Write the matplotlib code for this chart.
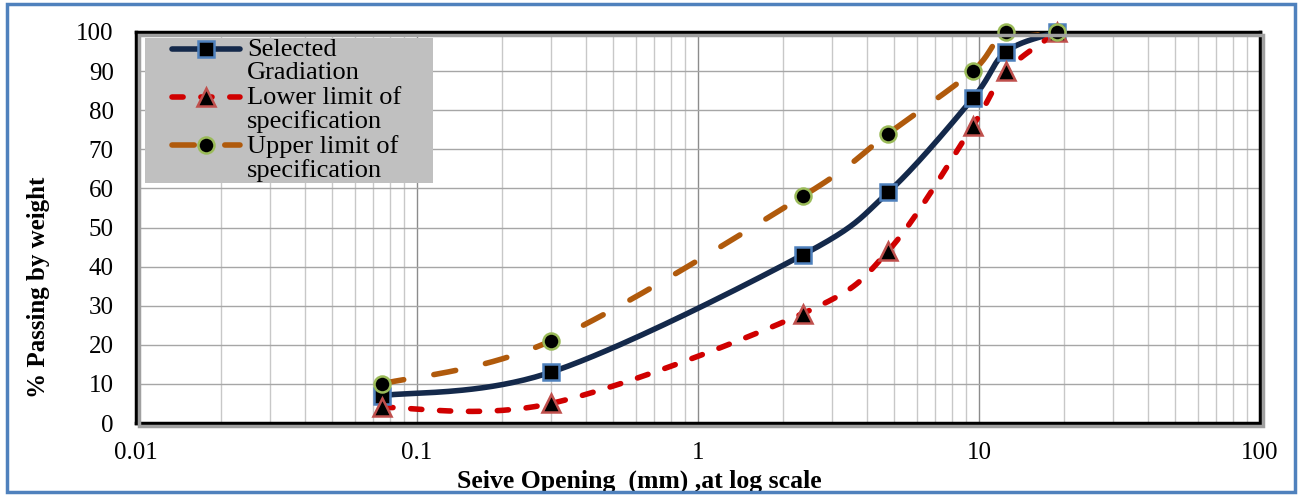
import numpy as np
import matplotlib.pyplot as plt
from matplotlib.patches import Rectangle
from matplotlib.lines import Line2D

plt.rcParams['font.family'] = ['Liberation Serif', 'DejaVu Serif']

# Sieve sizes (mm) and percent passing
sieve = [0.075, 0.3, 2.36, 4.75, 9.5, 12.5, 19]
selected = [7, 13, 43, 59, 83, 95, 100]
lower = [4, 5, 28, 44, 76, 90, 100]
upper = [10, 21, 58, 74, 90, 100, 100]

labels = ["Selected\nGradiation", "Lower limit of\nspecification", "Upper limit of\nspecification"]


def smooth(xs, ys, n=40):
    """Excel-like smoothed line (Catmull-Rom bezier) in log-x space."""
    px = np.log10(xs)
    py = np.array(ys, dtype=float)
    m = len(px)
    out_x, out_y = [], []
    t = np.linspace(0, 1, n)
    for i in range(m - 1):
        p0 = np.array([px[max(i - 1, 0)], py[max(i - 1, 0)]])
        p1 = np.array([px[i], py[i]])
        p2 = np.array([px[i + 1], py[i + 1]])
        p3 = np.array([px[min(i + 2, m - 1)], py[min(i + 2, m - 1)]])
        c1 = p1 + (p2 - p0) / 6
        c2 = p2 - (p3 - p1) / 6
        b = (np.outer((1 - t) ** 3, p1) + np.outer(3 * (1 - t) ** 2 * t, c1)
             + np.outer(3 * (1 - t) * t ** 2, c2) + np.outer(t ** 3, p2))
        out_x.extend(b[:, 0])
        out_y.extend(b[:, 1])
    return 10 ** np.array(out_x), np.array(out_y)


fig = plt.figure(figsize=(13.02, 4.97), dpi=100)
W, H = 1302, 497

# outer blue frame
fig.patches.append(Rectangle((7 / W, 5 / H), 1288 / W, 488 / H, transform=fig.transFigure,
                             fill=False, edgecolor='#4F81BD', lw=2.5))

ax = fig.add_axes([136 / W, 1 - 423 / H, (1260 - 136) / W, (423 - 32) / H])

# shadow behind the plot area frame
fig.patches.append(Rectangle((139 / W, 1 - 426 / H), (1260 - 136) / W, (423 - 32) / H,
                             transform=fig.transFigure, fill=False, edgecolor='#A0A0A0',
                             lw=2.5, zorder=0))

LW = 4.0
styles = [
    dict(color='#14294B', ls='-', marker='s', mfc='black', mec='#4F81BD', ms=11),
    dict(color='#D00000', ls=(0, (2.0, 3.2)), marker='^', mfc='black', mec='#C0504D', ms=13),
    dict(color='#B05A0C', ls=(0, (4.0, 5.5)), marker='o', mfc='black', mec='#9BBB59', ms=11.5),
]
series = [selected, lower, upper]

for ys, st in zip(series, styles):
    sx, sy = smooth(sieve, ys)
    ax.plot(sx, sy, color=st['color'], ls=st['ls'], lw=LW, zorder=3, solid_capstyle='round',
            dash_capstyle='round')
    ax.plot(sieve, ys, ls='none', marker=st['marker'], ms=st['ms'], mfc=st['mfc'], mec=st['mec'],
            mew=1.8, zorder=4, clip_on=False)

ax.set_xscale('log')
ax.set_xlim(0.01, 100)
ax.set_ylim(0, 100)
ax.set_yticks(range(0, 101, 10))
ax.set_xticks([0.01, 0.1, 1, 10, 100])
ax.set_xticklabels(['0.01', '0.1', '1', '10', '100'])
ax.grid(True, which='major', axis='x', color='#8C8C8C', lw=1.0)
ax.grid(True, which='minor', axis='x', color='#C8C8C8', lw=1.0)
ax.grid(True, which='major', axis='y', color='#A6A6A6', lw=1.0)
ax.set_axisbelow(True)
ax.tick_params(axis='both', which='both', length=0, labelsize=18)
ax.tick_params(axis='x', pad=14)
ax.tick_params(axis='y', pad=16)
for s in ax.spines.values():
    s.set_linewidth(2.5)
    s.set_color('black')

ax.set_xlabel('Seive Opening  (mm) ,at log scale', fontsize=18.5, fontweight='bold')
ax.set_ylabel('% Passing by weight', fontsize=18, fontweight='bold')
ax.xaxis.set_label_coords(0.4475, -0.118)
ax.yaxis.set_label_coords(-0.0765, 0.348)

# legend drawn by hand to keep markers on the first text line
lx0, ly0, lx1, ly1 = 145, 38, 433, 183
leg_ax = fig.add_axes([lx0 / W, 1 - ly1 / H, (lx1 - lx0) / W, (ly1 - ly0) / H])
leg_ax.set_xlim(lx0, lx1)
leg_ax.set_ylim(ly1, ly0)
leg_ax.axis('off')
leg_ax.add_patch(Rectangle((lx0, ly0), lx1 - lx0, ly1 - ly0, facecolor='#C0C0C0', edgecolor='none'))
for i, (lab, st) in enumerate(zip(labels, styles)):
    yy = 49 + i * 48
    leg_ax.add_line(Line2D([172, 240], [yy, yy], color=st['color'], ls=st['ls'], lw=LW,
                           solid_capstyle='round', dash_capstyle='round'))
    leg_ax.plot([206], [yy], ls='none', marker=st['marker'], ms=st['ms'], mfc=st['mfc'],
                mec=st['mec'], mew=1.8)
    leg_ax.text(247, yy - 10, lab, fontsize=19, va='top', ha='left', linespacing=1.08)

fig.savefig('out.png', dpi=100)
